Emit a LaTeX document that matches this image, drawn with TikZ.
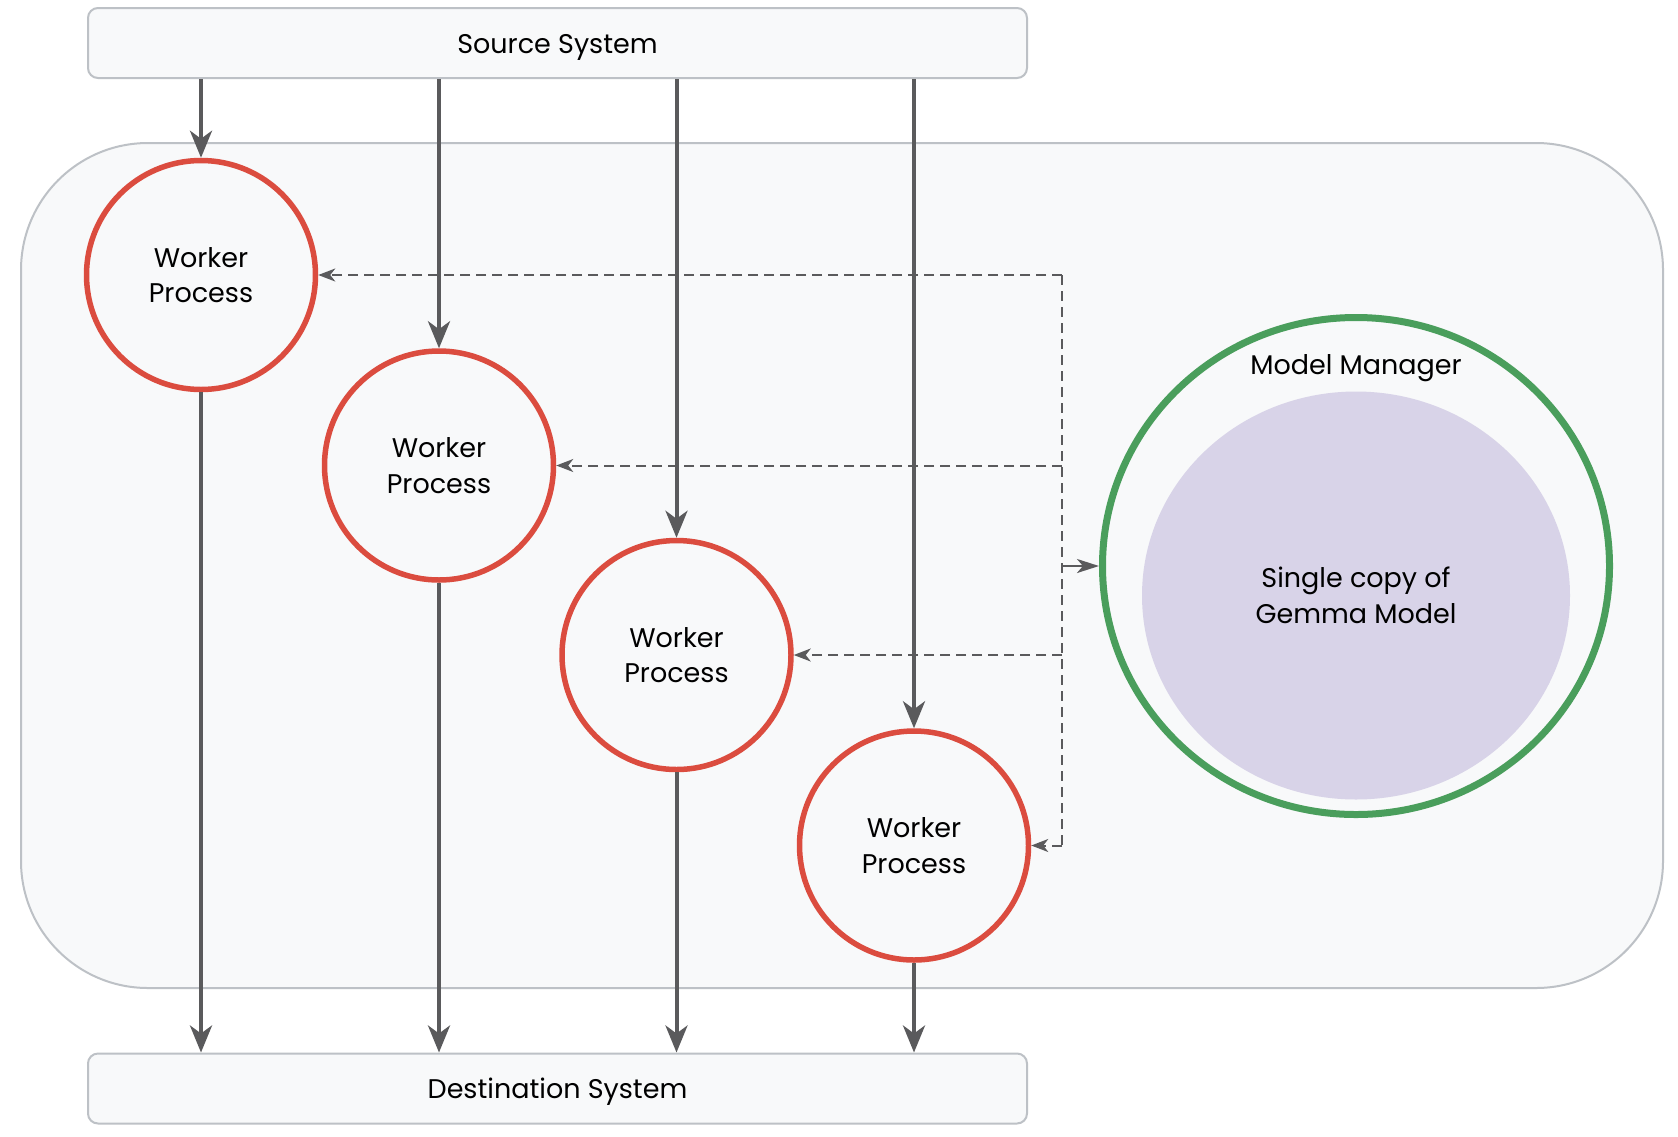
\documentclass[tikz,border=0pt]{standalone}
\usepackage{fontspec}
\setmainfont{Poppins}
\usetikzlibrary{arrows.meta,shapes.geometric}
\definecolor{panelfill}{HTML}{F8F9FA}
\definecolor{panelline}{HTML}{BDC1C6}
\definecolor{workerred}{HTML}{DB4C3F}
\definecolor{managergreen}{HTML}{4A9E5C}
\definecolor{modelfill}{HTML}{D8D3E8}
\definecolor{flowgray}{HTML}{5A5A5C}
\begin{document}
\begin{tikzpicture}[x=1pt,y=-1pt,
    every node/.style={font=\fontsize{27}{35.5}\selectfont, align=center},
    sysbox/.style={draw=panelline, fill=panelfill, line width=2pt, rounded corners=10pt,
        minimum width=939pt, minimum height=70pt, inner sep=0pt, text height=26pt, text depth=6pt},
    worker/.style={circle, draw=workerred, fill=panelfill, line width=5.5pt,
        minimum size=229pt, inner sep=0pt},
    flow/.style={draw=flowgray, line width=4pt, -{Stealth[length=27pt,width=22pt,inset=8pt]}},
    syncline/.style={draw=flowgray, line width=2pt, dash pattern=on 10pt off 6pt},
    sync/.style={syncline, -{Stealth[length=17pt,width=13pt,inset=5pt]}}]
    \fill[white] (0,0) rectangle (1678,1136);
    \useasboundingbox (0,0) rectangle (1678,1136);
    % pool of workers
    \draw[draw=panelline, fill=panelfill, line width=2pt, rounded corners=127pt] (21,143) rectangle (1663,988);
    \node[sysbox] (src) at (557.5,43) {Source System};
    \node[sysbox] (dst) at (557.5,1088.5) {Destination System};
    \foreach \i/\x/\y in {1/201/275, 2/439/465.5, 3/676.5/655, 4/914/845.5}
        \node[worker] (w\i) at (\x,\y) {Worker\\Process};
    % model manager
    \node[ellipse, draw=managergreen, fill=panelfill, line width=7pt, minimum width=507pt, minimum height=497pt, inner sep=0pt] (mm) at (1356,566) {};
    \node (mmlabel) at (1356,368) {Model Manager};
    \node[ellipse, fill=modelfill, minimum width=428pt, minimum height=408pt, inner sep=0pt] (gemma) at (1356,595.5) {Single copy of\\Gemma Model};
    % shared model links
    \coordinate (bus) at (1062,566);
    \draw[syncline] (bus |- w1.east) -- (bus |- w4.east);
    \foreach \i in {1,...,4}
        \draw[sync] (bus |- w\i.east) -- (w\i.east);
    \draw[draw=flowgray, line width=2.5pt, -{Stealth[length=22pt,width=14pt,inset=6pt]}] (bus) -- (mm.west);
    % data flow
    \foreach \i in {1,...,4} {
        \draw[flow] (w\i.north |- src.south) -- (w\i.north);
        \draw[flow] (w\i.south) -- (w\i.south |- dst.north);
    }
\end{tikzpicture}
\end{document}
